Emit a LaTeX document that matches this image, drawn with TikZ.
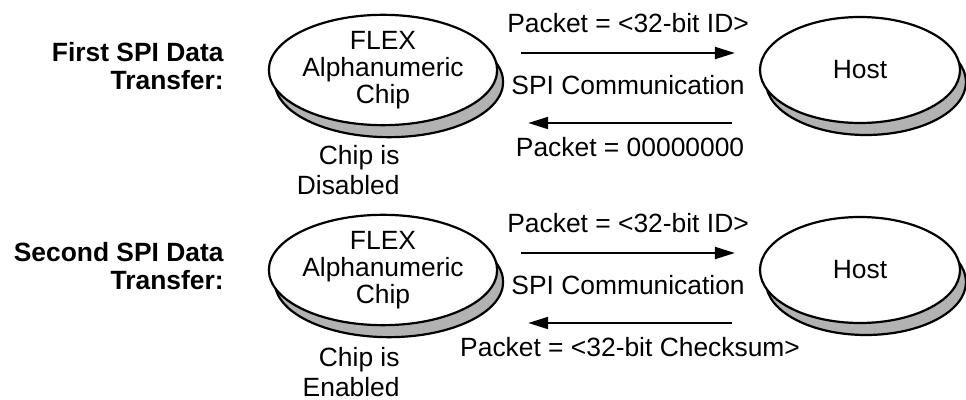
\documentclass[tikz,border=0pt]{standalone}
\usepackage{fontspec}
\setmainfont{Liberation Sans}
\usetikzlibrary{shapes.geometric,shadows,arrows.meta}

\begin{document}
\begin{tikzpicture}[x=0.5pt, y=-0.5pt,
every node/.style={font=\fontsize{13.2pt}{13.6pt}\selectfont, inner sep=0pt},
unit/.style={ellipse, draw, line width=1.1pt, fill=white,
  minimum width=100pt, minimum height=53pt, align=center,
  drop shadow={shadow xshift=3pt, shadow yshift=-6pt, fill=black!30,
    draw=black, line width=1.1pt, opacity=1}},
msg/.style={line width=1pt, -{Triangle[length=10pt,width=6pt]}},
title/.style={anchor=east, align=right,
  font=\fontsize{13.2pt}{13.6pt}\selectfont\bfseries},
state/.style={anchor=east, align=right,
  font=\fontsize{13.2pt}{15pt}\selectfont}
]
\useasboundingbox (0,0) rectangle (966,400);

\foreach \Row/\Y/\Step/\State/\Reply in
  {1/0/First/Disabled/00000000, 2/200/Second/Enabled/<32-bit Checksum>}{
  \node[title] (title\Row) at (224,66+\Y) {\Step{} SPI Data\\Transfer:};
  \node[unit] (chip\Row) at (383,70+\Y) {FLEX\\Alphanumeric\\Chip};
  \node[unit] (host\Row) at (860,70+\Y) {Host};
  \node[state] (state\Row) at (400,168+\Y+2*\Row) {Chip is\\\State};

  \draw[msg] ([shift={(23,-17)}]chip\Row.east) -- ([shift={(-24,-17)}]host\Row.west)
    node[midway, yshift=15pt] (ask\Row) {Packet = <32-bit ID>}
    node[midway, yshift=-16pt] (link\Row) {SPI Communication};
  \draw[msg] ([shift={(-27,53)}]host\Row.west) -- ([shift={(30,53)}]chip\Row.east)
    node[midway, yshift=-12pt] (reply\Row) {Packet = \Reply};
}

\end{tikzpicture}
\end{document}
